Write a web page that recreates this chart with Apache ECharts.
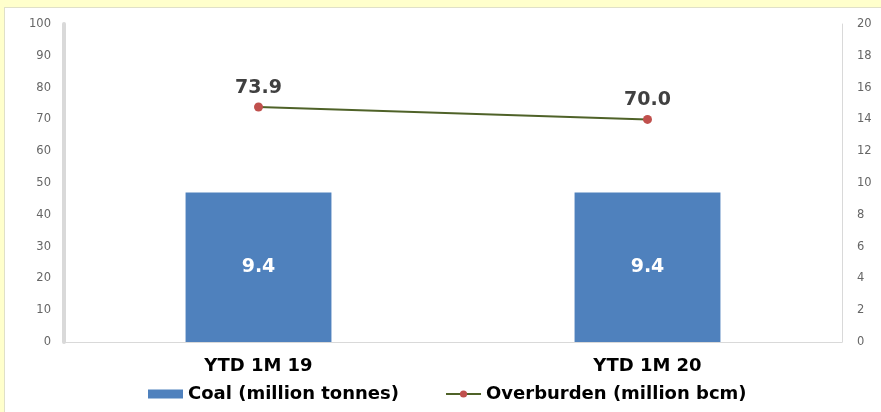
<!DOCTYPE html>
<html>
<head>
<meta charset="utf-8">
<script src="https://cdn.jsdelivr.net/npm/echarts@6/dist/echarts.min.js"></script>
<style>
html,body{margin:0;padding:0;background:#FFFFCC;}
#frame{position:absolute;left:4px;top:7px;width:877px;height:405px;background:#fff;border-left:1px solid #e0e0c8;border-top:1px solid #e0e0c8;box-sizing:border-box;}
#chart{position:absolute;left:0;top:0;width:881px;height:412px;}
</style>
</head>
<body>
<div id="frame"></div>
<div id="chart"></div>
<script>
const categories = ['YTD 1M 19', 'YTD 1M 20'];
const coal = [9.4, 9.4];
const overburden = [73.9, 70.0];
const leftTicks = {min: 0, max: 100, interval: 10};
const rightTicks = {min: 0, max: 20, interval: 2};

const chart = echarts.init(document.getElementById('chart'));
const font = 'DejaVu Sans, Verdana, sans-serif';
chart.setOption({
  backgroundColor: 'transparent',
  animation: false,
  textStyle: {fontFamily: font},
  grid: {left: 64, right: 39, top: 24, bottom: 70, containLabel: false},
  legend: {
    bottom: 4,
    left: 143,
    itemWidth: 35,
    itemHeight: 9,
    itemGap: 46,
    textStyle: {fontFamily: font, fontWeight: 'bold', fontSize: 18, color: '#000'},
    data: [
      {name: 'Coal (million tonnes)', icon: 'rect'},
      {name: 'Overburden (million bcm)'}
    ]
  },
  xAxis: {
    type: 'category',
    data: categories,
    axisLine: {show: true, lineStyle: {color: '#d9d9d9', width: 1}},
    axisTick: {show: false},
    axisLabel: {fontFamily: font, fontWeight: 'bold', fontSize: 18, color: '#000', margin: 15}
  },
  yAxis: [
    {
      type: 'value',
      min: leftTicks.min, max: leftTicks.max, interval: leftTicks.interval,
      position: 'left',
      splitLine: {show: false},
      axisTick: {show: false},
      axisLine: {show: true, lineStyle: {color: '#d9d9d9', width: 4}},
      axisLabel: {fontFamily: font, fontSize: 11.5, color: '#666666', margin: 13}
    },
    {
      type: 'value',
      min: rightTicks.min, max: rightTicks.max, interval: rightTicks.interval,
      position: 'right',
      splitLine: {show: false},
      axisTick: {show: false},
      axisLine: {show: true, lineStyle: {color: '#d9d9d9', width: 1}},
      axisLabel: {fontFamily: font, fontSize: 11.5, color: '#666666', margin: 15}
    }
  ],
  series: [
    {
      name: 'Coal (million tonnes)',
      type: 'bar',
      yAxisIndex: 1,
      data: coal,
      barWidth: '37.5%',
      itemStyle: {color: '#4F81BD'},
      label: {
        show: true, position: 'inside',
        formatter: p => p.value.toFixed(1),
        color: '#fff', fontFamily: font, fontWeight: 'bold', fontSize: 19
      }
    },
    {
      name: 'Overburden (million bcm)',
      type: 'line',
      yAxisIndex: 0,
      data: overburden,
      symbol: 'circle',
      symbolSize: 9,
      lineStyle: {color: '#4F6228', width: 2},
      itemStyle: {color: '#C0504D'},
      label: {
        show: true, position: 'top', distance: 5,
        formatter: p => p.value.toFixed(1),
        color: '#404040', fontFamily: font, fontWeight: 'bold', fontSize: 19
      }
    }
  ]
});
</script>
</body>
</html>
